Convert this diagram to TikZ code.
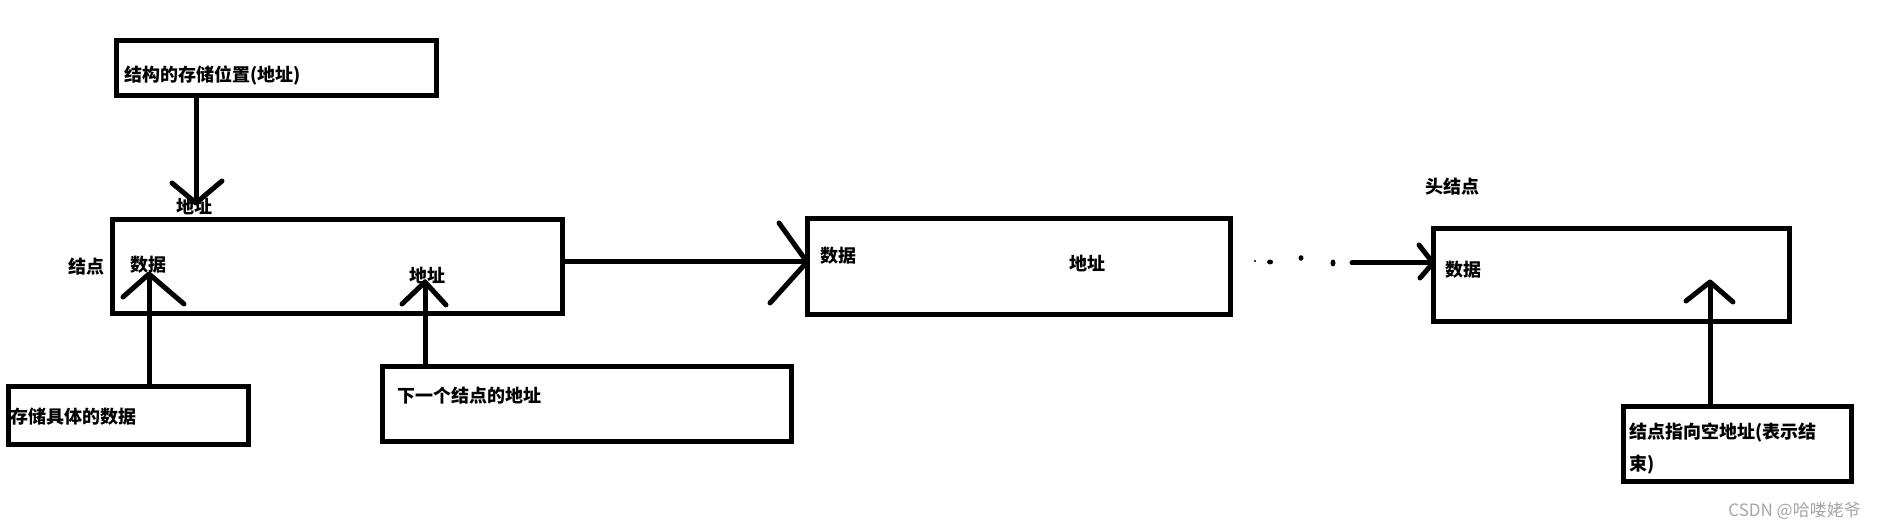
\documentclass[tikz,border=0pt]{standalone}
\usepackage{fontspec}
\newfontfamily\cjk{Noto Sans CJK SC}
\usetikzlibrary{calc}
\tikzset{
  box/.style={draw, line width=5pt, inner sep=0pt, outer sep=0pt},
  lbl/.style={anchor=west, inner sep=0pt, font=\cjk\bfseries\fontsize{18}{20}\selectfont},
  conn/.style={line width=5pt},
  head/.style={line width=5pt, line cap=round, line join=round},
  dot/.style={fill=black, draw=none}
}
\begin{document}
\begin{tikzpicture}[x=1pt, y=-1pt]
\path[use as bounding box, fill=white] (0,0) rectangle (1877,529);

% boxes
\node[box, minimum width=320pt, minimum height=55pt] (top) at (276,68.5) {};
\node[box, minimum width=450pt, minimum height=94pt] (box1) at (337,267) {};
\node[box, minimum width=423pt, minimum height=96pt] (box2) at (1018.5,267) {};
\node[box, minimum width=356pt, minimum height=93pt] (box3) at (1611,275.5) {};
\node[box, minimum width=240pt, minimum height=58pt] (boxA) at (128,415) {};
\node[box, minimum width=409pt, minimum height=75pt] (boxB) at (586.5,403.5) {};
\node[box, minimum width=228pt, minimum height=75pt] (boxC) at (1737,443.5) {};

% texts
\node[lbl] (tTop) at (124,75) {结构的存储位置(地址)};
\node[lbl] (tAddr0) at (176,206) {地址};
\node[lbl] (tNode) at (68,267) {结点};
\node[lbl] (tData1) at (130,265) {数据};
\node[lbl] (tAddr1) at (409,275) {地址};
\node[lbl] (tData2) at (820,256) {数据};
\node[lbl] (tAddr2) at (1069,263) {地址};
\node[lbl] (tHead) at (1425,187) {头结点};
\node[lbl] (tData3) at (1445,270) {数据};
\node[lbl] (tA) at (10,417) {存储具体的数据};
\node[lbl] (tB) at (397,396) {下一个结点的地址};
\node[lbl] (tC1) at (1629,433) {结点指向空地址(表示结};
\node[lbl] (tC2) at (1629,465) {束)};
\node[anchor=east, inner sep=0pt, font=\cjk\fontsize{17}{19}\selectfont, text=black!35] (wm) at (1861,511) {CSDN @哈喽姥爷};

% top arrow (down)
\coordinate (tipT) at (196,203);
\draw[conn] (tipT |- top.south) -- (tipT);
\draw[head] (tipT) ++(-24,-20) -- (tipT) -- ++(26,-22);

% arrow from data box (up)
\coordinate (tipA) at (149,274);
\draw[conn] (tipA |- boxA.north) -- (tipA);
\draw[head] (tipA) ++(-26,23) -- (tipA) -- ++(35,30);

% arrow from next-address box (up)
\coordinate (tipB) at (425,282);
\draw[conn] (tipB |- boxB.north) -- (tipB);
\draw[head] (tipB) ++(-23,22) -- (tipB) -- ++(21,23);

% arrow from null-address box (up)
\coordinate (tipC) at (1710,282);
\draw[conn] (tipC |- boxC.north) -- (tipC);
\draw[head] (tipC) ++(-24,19) -- (tipC) -- ++(23,20);

% horizontal arrow box1 -> box2
\coordinate (tip1) at (box2.west |- 0,262);
\draw[conn] (tip1 -| box1.east) -- (tip1);
\draw[head] (tip1) ++(-28,-39) -- (tip1) -- ++(-37,41);

% dots and arrow to box3
\fill[dot] (1255,261) circle (1.2pt);
\fill[dot] (1270,262) ellipse (3pt and 2.5pt);
\fill[dot] (1301,258) ellipse (2.5pt and 2.8pt);
\fill[dot] (1333,263) ellipse (2.5pt and 3.5pt);
\coordinate (s2) at (1352,263);
\coordinate (tip2) at (box3.west |- s2);
\draw[conn, line cap=round] (s2) -- (tip2);
\draw[head] (tip2) ++(-14,-18) -- (tip2) -- ++(-13,15);
\end{tikzpicture}
\end{document}
